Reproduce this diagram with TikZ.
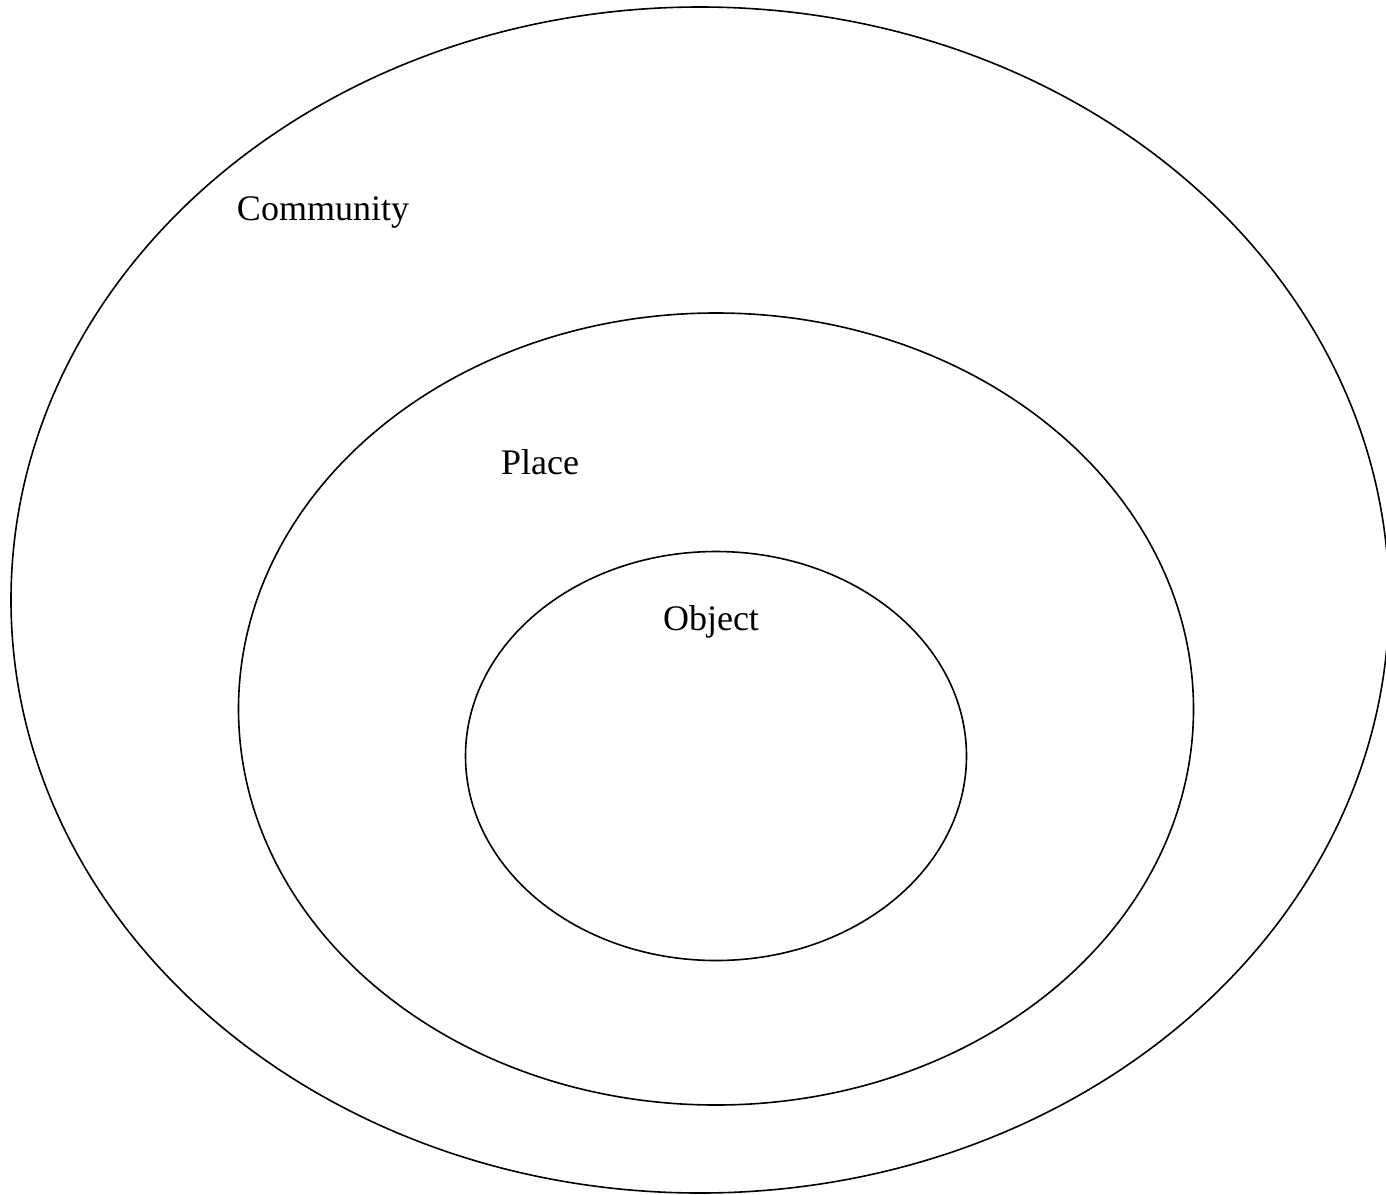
\documentclass[tikz,border=0pt]{standalone}
\usepackage{fontspec}
\setmainfont{Liberation Serif}
\usepackage{tikz}
\usetikzlibrary{positioning, shapes.geometric}
\tikzset{
  ring/.style={draw=black, line width=1.6pt, ellipse, inner sep=0pt},
  lbl/.style={font=\fontsize{36}{40}\selectfont, text=black, inner sep=0pt},
}
\begin{document}
\begin{tikzpicture}[x=1pt, y=-1pt]
  \useasboundingbox (0,0) rectangle (1386,1194);
  \clip (0,0) rectangle (1386,1194);
  % three nested rings
  \node[ring, minimum width=1378pt, minimum height=1186pt] (community) at (700,600) {};
  \node[ring, minimum width=955pt, minimum height=792pt] (place) at (716,709) {};
  \node[ring, minimum width=501pt, minimum height=409pt] (object) at (716,756) {};
  % labels
  \node[lbl] (communitylbl) at (323,212) {Community};
  \node[lbl] (placelbl) at (540,462) {Place};
  \node[lbl] (objectlbl) at (711,622) {Object};
\end{tikzpicture}
\end{document}
